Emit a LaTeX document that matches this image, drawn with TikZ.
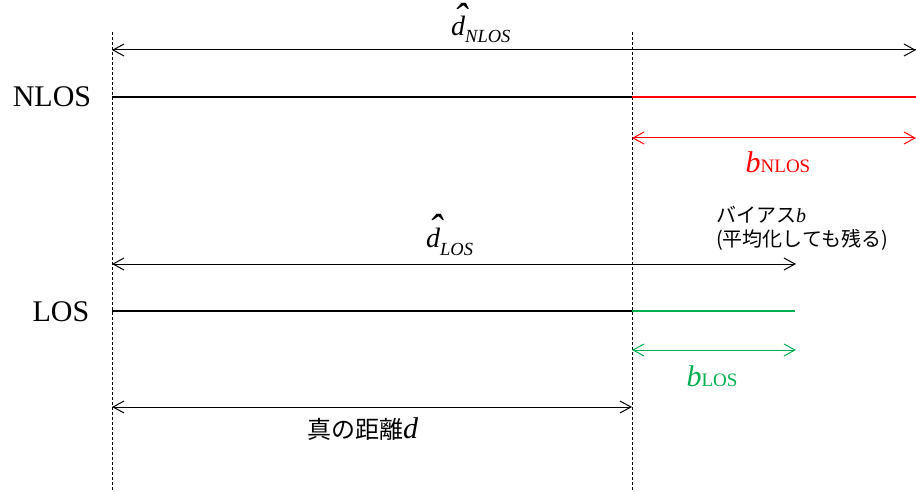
\documentclass[tikz,border=0pt]{standalone}
\usepackage{fontspec}
\usepackage{graphicx}
\setmainfont{Liberation Serif}
\newfontfamily\jpfont{Noto Sans CJK JP}
\usetikzlibrary{arrows.meta}
\definecolor{losgreen}{RGB}{0,176,80}
\newcommand{\myhatd}[1]{{\fontsize{#1}{#1}\selectfont\setbox0\hbox{\itshape d}%
\hbox to \wd0{\hss\kern0.15em\raisebox{0.12em}[0pt][0pt]{\scalebox{1.5}[1.5]{\itshape\char"02C6}}\hss}\kern-\wd0\box0}}
\tikzset{
  guide/.style={line width=0.8pt, dash pattern=on 3pt off 2pt},
  mainline/.style={line width=2.8pt},
  dim/.style={line width=1pt, {Straight Barb[length=11pt,width=12pt]}-{Straight Barb[length=11pt,width=12pt]}},
  dimr/.style={line width=1pt, -{Straight Barb[length=11pt,width=12pt]}},
  lbl/.style={inner sep=0pt, font=\fontsize{30}{30}\selectfont},
  jp/.style={inner sep=0pt, font=\jpfont\fontsize{20}{24}\selectfont, align=left},
}
\begin{document}
\begin{tikzpicture}[x=1pt,y=-1pt]
\useasboundingbox[fill=white] (0,0) rectangle (916,492);
% guide lines
\coordinate (gLtop) at (112,32); \coordinate (gLbot) at (112,492);
\coordinate (gMtop) at (632,32); \coordinate (gMbot) at (632,492);
\draw[guide] (gLtop) -- (gLbot);
\draw[guide] (gMtop) -- (gMbot);
% NLOS
\coordinate (n0) at (112,97); \coordinate (n1) at (632,97); \coordinate (n2) at (916,97);
\draw[mainline] (n0) -- (n1);
\draw[mainline, red] (n1) -- (n2);
\node[lbl, anchor=base] (nlos) at (52,107) {NLOS};
\coordinate (dn0) at (112,50); \coordinate (dn1) at (916,50);
\draw[dimr] (dn1) -- (dn0);
\draw[dimr] (dn0) -- (dn1);
\node[inner sep=0pt, anchor=base west] (dnlab) at (451,36) {\myhatd{28}\raisebox{-7pt}{\fontsize{18.5}{18.5}\selectfont\itshape NLOS}};
\coordinate (bn0) at (632,138); \coordinate (bn1) at (916,138);
\draw[dim, red] (bn0) -- (bn1);
\node[lbl, anchor=base, red] (bnlab) at (778,172) {\itshape b\upshape\fontsize{19}{19}\selectfont NLOS};
% bias text
\node[jp, anchor=west] (bias1) at (716,215) {バイアス{\rmfamily\itshape b}};
\node[jp, anchor=west] (bias2) at (716,240) {(平均化しても残る)};
% LOS
\coordinate (l0) at (112,311); \coordinate (l1) at (632,311); \coordinate (l2) at (795,311);
\draw[mainline] (l0) -- (l1);
\draw[mainline, losgreen] (l1) -- (l2);
\node[lbl, anchor=base] (los) at (61,321) {LOS};
\coordinate (dl0) at (112,264); \coordinate (dl1) at (796,264);
\draw[dim] (dl0) -- (dl1);
\node[inner sep=0pt, anchor=base west] (dllab) at (426,247) {\myhatd{28}\raisebox{-8pt}{\fontsize{18.5}{18.5}\selectfont\itshape LOS}};
\coordinate (bl0) at (632,350); \coordinate (bl1) at (796,350);
\draw[dim, losgreen] (bl0) -- (bl1);
\node[lbl, anchor=base, losgreen] (bllab) at (712,386) {\itshape b\upshape\fontsize{19}{19}\selectfont LOS};
% true distance
\coordinate (t0) at (112,407); \coordinate (t1) at (632,407);
\draw[dim] (t0) -- (t1);
\node[inner sep=0pt, anchor=base west] (truelab) at (307,438) {{\jpfont\fontsize{24}{24}\selectfont 真の距離}{\fontsize{30}{30}\selectfont\itshape d}};
\end{tikzpicture}
\end{document}
